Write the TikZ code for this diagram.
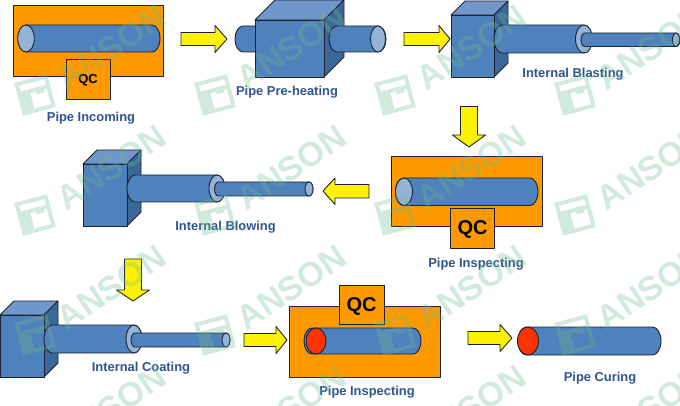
\documentclass[tikz,border=0pt]{standalone}
\usepackage{fontspec}
\setmainfont{Liberation Sans}
\definecolor{pipeblue}{HTML}{4F81BD}
\definecolor{sideblue}{HTML}{3C6899}
\definecolor{topblue}{HTML}{6F97C9}
\definecolor{capblue}{HTML}{95B3D7}
\definecolor{panelorange}{HTML}{FF9900}
\definecolor{outline}{HTML}{1B2233}
\definecolor{labelblue}{HTML}{2F5590}
\definecolor{wmgreen}{HTML}{6DBB8A}
\definecolor{capred}{HTML}{FF3300}
\tikzset{
  shape line/.style={draw=outline,line width=0.9pt,line join=round},
  panel/.style={shape line,fill=panelorange},
  bluefill/.style={shape line,fill=pipeblue},
  capfill/.style={shape line,fill=capblue},
  redcap/.style={shape line,fill=capred},
  blockarrow/.style={shape line,fill=yellow},
  steplabel/.style={font=\bfseries\fontsize{12.9}{15}\selectfont,text=labelblue,inner sep=0pt},
  qcsmall/.style={font=\bfseries\fontsize{13}{15}\selectfont,text=black,inner sep=0pt},
  qclarge/.style={font=\bfseries\fontsize{20}{22}\selectfont,text=black,inner sep=0pt},
  markword/.style={font=\bfseries\fontsize{34}{36}\selectfont,text=wmgreen,text opacity=0.3,rotate=33.5,inner sep=0pt}
}
% \tube{x left}{x right}{y top}{y bottom}{rx}: body with rounded ends
\newcommand{\tube}[5]{\path[bluefill] (#1+#5,#3) -- (#2-#5,#3) arc[start angle=-90,end angle=90,x radius=#5,y radius={(#4-#3)/2}] -- (#1+#5,#4) arc[start angle=90,end angle=270,x radius=#5,y radius={(#4-#3)/2}] -- cycle;}
% \cube{x0}{y0}{x1}{y1}{depth}
\newcommand{\cube}[5]{
  \path[shape line,fill=topblue] (#1,#2) -- (#1+#5,#2-#5) -- (#3+#5,#2-#5) -- (#3,#2) -- cycle;
  \path[shape line,fill=sideblue] (#3,#2) -- (#3+#5,#2-#5) -- (#3+#5,#4-#5) -- (#3,#4) -- cycle;
  \path[bluefill] (#1,#2) rectangle (#3,#4);}
% \rarrow{x0}{x head}{x tip}{y}
\newcommand{\rarrow}[4]{\path[blockarrow] (#1,#4-6.5) -- (#2,#4-6.5) -- (#2,#4-13.5) -- (#3,#4) -- (#2,#4+13.5) -- (#2,#4+6.5) -- (#1,#4+6.5) -- cycle;}
% \darrow{x}{y0}{y head}{y tip}
\newcommand{\darrow}[4]{\path[blockarrow] (#1-8.5,#2) -- (#1+8.5,#2) -- (#1+8.5,#3) -- (#1+16.5,#3) -- (#1,#4) -- (#1-16.5,#3) -- (#1-8.5,#3) -- cycle;}
% \watermark{x}{y}: logo centre
\newcommand{\watermark}[2]{
  \begin{scope}[shift={(#1,#2)},rotate=15,opacity=0.3]
    \fill[wmgreen,even odd rule] (-17,-17) rectangle (17,17)
      (-13,-13) rectangle (13,-7)
      (-4,-3) -- (2,-3) -- (2,0) -- (10,0) -- (10,-3) -- (13,-3) -- (13,13) -- (-4,13) -- cycle;
  \end{scope}
  \node[markword] at (#1+76.5,#2-47.5) {ANSON};}
\begin{document}
\begin{tikzpicture}[x=1pt,y=-1pt]
\useasboundingbox (0,0) rectangle (680,406);
\fill[white] (0,0) rectangle (680,406);
\begin{scope}
\clip (0,0) rectangle (680,406);

% Pipe Incoming
\path[panel] (13,5) rectangle (163,76);
\tube{18}{160}{25}{52}{8}
\path[capfill] (26,38.5) ellipse[x radius=8.3,y radius=13.5];
\path[panel] (66,59) rectangle (110,99);
\node[qcsmall] (qcA) at (88,80) {QC};
\node[steplabel] (lblA) at (91,118) {Pipe Incoming};
\rarrow{181}{215}{227}{39}

% Pipe Pre-heating
\tube{235}{262}{26}{52}{8}
\cube{255}{20}{324}{77}{20}
\tube{329}{386}{26}{52}{8}
\path[capfill] (378,39) ellipse[x radius=7.5,y radius=13];
\node[steplabel] (lblB) at (287,92) {Pipe Pre-heating};
\rarrow{404}{439}{450}{39}

% Internal Blasting
\cube{451}{15}{494}{77}{14}
\tube{494}{592}{25}{53}{8}
\path[capfill] (584,39) ellipse[x radius=8.5,y radius=14];
\tube{581}{680}{33}{46.5}{4}
\path[capfill] (676,39.8) ellipse[x radius=3.6,y radius=6.7];
\node[steplabel] (lblC) at (573,74.5) {Internal Blasting};
\darrow{469}{106.5}{135}{147}

% Pipe Inspecting (1)
\path[panel] (391,156) rectangle (542,226);
\tube{395.5}{538}{178}{205.5}{8}
\path[capfill] (404,191.7) ellipse[x radius=8.5,y radius=13.7];
\path[panel] (450,208) rectangle (494,248);
\node[qclarge] (qcB) at (472.5,229.5) {QC};
\node[steplabel] (lblD) at (476,264.5) {Pipe Inspecting};
\path[blockarrow] (369,184.5) -- (335,184.5) -- (335,178) -- (323,191) -- (335,204.5) -- (335,198) -- (369,198) -- cycle;

% Internal Blowing
\cube{83}{164}{127}{226}{14}
\tube{127}{225}{175}{202}{8}
\path[capfill] (217,188.5) ellipse[x radius=8,y radius=13.5];
\tube{214.5}{313}{182}{196}{4}
\path[capfill] (309,189) ellipse[x radius=4,y radius=7];
\node[steplabel] (lblE) at (225.5,227.5) {Internal Blowing};
\darrow{133}{259}{290}{301}

% Internal Coating
\cube{0}{315}{44}{377}{14}
\tube{44}{142}{325}{353}{8}
\path[capfill] (134,339) ellipse[x radius=8,y radius=14];
\tube{131}{230}{333}{347}{4}
\path[capfill] (226,340) ellipse[x radius=4,y radius=7];
\node[steplabel] (lblF) at (141,368) {Internal Coating};
\rarrow{244}{276}{287}{340}

% Pipe Inspecting (2)
\path[panel] (289,306) rectangle (440,377);
\tube{304}{421}{328}{354}{8}
\path[redcap] (316,341) ellipse[x radius=10,y radius=13];
\path[panel] (339,285) rectangle (384,324);
\node[qclarge] (qcC) at (361.5,306) {QC};
\node[steplabel] (lblG) at (367,392) {Pipe Inspecting};
\rarrow{468}{500}{512}{338}

% Pipe Curing
\tube{518}{661}{327}{355}{8.5}
\path[redcap] (528,341) ellipse[x radius=10.5,y radius=14];
\node[steplabel] (lblH) at (600,378) {Pipe Curing};

% Watermark
\foreach \wy in {-25,95,215,335,455} {
  \foreach \wx in {35,215,395,575} {
    \watermark{\wx}{\wy}
  }
}
\end{scope}
\end{tikzpicture}
\end{document}
